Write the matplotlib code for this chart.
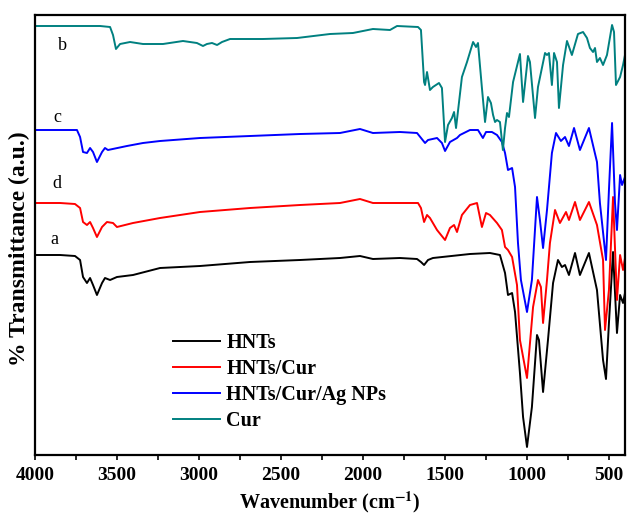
import matplotlib
matplotlib.use('Agg')
import matplotlib.pyplot as plt
from matplotlib.ticker import MultipleLocator

plt.rcParams['font.family'] = 'Liberation Serif'
plt.rcParams['mathtext.fontset'] = 'stix'

# spectra: wavenumber (cm-1) and transmittance (a.u., offset stack)
hnts_wn = [4000, 3847, 3756, 3725, 3707, 3683, 3664, 3646, 3622, 3591,
           3573, 3542, 3500, 3402, 3237, 2993, 2688, 2383, 2139, 2017,
           1938, 1773, 1669, 1645, 1626, 1602, 1572, 1346, 1224, 1163,
           1132, 1114, 1089, 1071, 1041, 1022, 998, 968, 937, 925,
           900, 870, 839, 809, 785, 766, 742, 705, 675, 620,
           571, 534, 516, 498, 473, 449, 430, 412, 400]
hnts_t = [200, 200, 199, 195, 178, 172, 177, 170, 160, 172,
          177, 175, 178, 180, 187, 189, 193, 195, 197, 199,
          196, 197, 196, 193, 190, 195, 197, 201, 202, 200,
          182, 160, 162, 143, 82, 38, 8, 48, 120, 115,
          63, 115, 172, 195, 188, 190, 180, 202, 180, 202,
          165, 95, 76, 132, 203, 122, 160, 152, 162]

cur_hnts_wn = [4000, 3847, 3756, 3725, 3707, 3683, 3664, 3646, 3622, 3591,
               3561, 3524, 3500, 3402, 3237, 2993, 2688, 2383, 2139, 2017,
               1938, 1773, 1663, 1645, 1626, 1608, 1590, 1547, 1498, 1468,
               1443, 1425, 1395, 1346, 1303, 1273, 1248, 1224, 1181, 1151,
               1132, 1114, 1089, 1059, 1041, 998, 961, 931, 913, 900,
               876, 858, 827, 797, 760, 742, 705, 675, 620, 571,
               534, 522, 498, 473, 449, 430, 412, 400]
cur_hnts_t = [252, 252, 251, 247, 233, 230, 233, 227, 218, 228,
              233, 232, 228, 232, 237, 243, 247, 250, 252, 256,
              252, 252, 252, 247, 233, 240, 237, 225, 215, 227,
              230, 223, 240, 250, 252, 228, 242, 240, 232, 225,
              208, 205, 198, 170, 115, 77, 148, 175, 168, 132,
              175, 212, 245, 232, 243, 235, 253, 235, 253, 230,
              195, 125, 165, 258, 155, 200, 185, 197]

ag_wn = [4000, 3847, 3744, 3725, 3707, 3683, 3664, 3646, 3622, 3591,
         3573, 3555, 3439, 3341, 3237, 2993, 2688, 2383, 2139, 2017,
         1938, 1773, 1669, 1620, 1602, 1547, 1517, 1498, 1468, 1425,
         1407, 1346, 1297, 1267, 1248, 1212, 1181, 1151, 1132, 1114,
         1089, 1071, 1053, 1035, 998, 968, 937, 919, 900, 876,
         846, 821, 791, 766, 742, 711, 675, 620, 571, 553,
         516, 498, 479, 461, 449, 430, 418, 400]
ag_t = [325, 325, 325, 318, 303, 302, 307, 303, 293, 303,
        307, 305, 309, 312, 314, 317, 319, 321, 322, 326,
        322, 323, 322, 312, 315, 317, 312, 304, 313, 317,
        320, 325, 325, 317, 323, 323, 320, 313, 302, 285,
        287, 268, 212, 175, 143, 175, 258, 235, 207, 245,
        302, 322, 314, 318, 309, 327, 305, 327, 293, 252,
        195, 265, 332, 252, 225, 280, 270, 278]

cur_wn = [4000, 3603, 3542, 3524, 3506, 3481, 3420, 3341, 3219, 3097,
          3012, 2975, 2951, 2920, 2889, 2859, 2810, 2609, 2401, 2200,
          2060, 1938, 1834, 1791, 1663, 1645, 1626, 1620, 1608, 1602,
          1590, 1572, 1535, 1517, 1498, 1480, 1456, 1443, 1431, 1395,
          1364, 1327, 1309, 1297, 1273, 1254, 1236, 1218, 1205, 1193,
          1181, 1163, 1145, 1132, 1120, 1108, 1083, 1041, 1022, 992,
          980, 949, 931, 888, 876, 864, 846, 833, 815, 803,
          778, 754, 724, 687, 656, 632, 614, 595, 583, 571,
          553, 534, 510, 479, 467, 455, 430, 412, 400]
cur_t = [429, 429, 428, 420, 406, 411, 413, 411, 411, 414,
         412, 409, 411, 412, 410, 413, 416, 416, 417, 421,
         422, 426, 425, 429, 428, 425, 373, 370, 383, 377,
         365, 368, 372, 367, 313, 330, 337, 343, 327, 378,
         393, 413, 408, 412, 367, 333, 358, 352, 340, 333,
         335, 333, 305, 327, 342, 338, 373, 401, 353, 399,
         393, 337, 368, 402, 400, 402, 370, 402, 393, 347,
         390, 414, 400, 421, 423, 417, 407, 403, 407, 393,
         397, 390, 400, 430, 423, 370, 378, 390, 400]

fig = plt.figure(figsize=(6.27, 5.22), dpi=100)
ax = fig.add_axes([35/627, 67/522, 590/627, 440/522])

ax.plot(hnts_wn, hnts_t, color='black', lw=1.4, label='HNTs')
ax.plot(cur_hnts_wn, cur_hnts_t, color='#ff0000', lw=1.4, label='HNTs/Cur')
ax.plot(ag_wn, ag_t, color='#0000ff', lw=1.4, label='HNTs/Cur/Ag NPs')
ax.plot(cur_wn, cur_t, color='#008080', lw=1.4, label='Cur')

# curve letters
ax.text(3835, 410, 'b', fontsize=13, ha='center', va='center')
ax.text(3866, 337, 'c', fontsize=13, ha='center', va='center')
ax.text(3866, 272, 'd', fontsize=13, ha='center', va='center')
ax.text(3884, 215, 'a', fontsize=13, ha='center', va='center')

ax.set_xlim(4000, 400)
ax.set_ylim(0, 440)
ax.set_yticks([])
ax.xaxis.set_major_locator(MultipleLocator(500))
ax.xaxis.set_minor_locator(MultipleLocator(250))
ax.tick_params(axis='x', which='both', direction='out', length=3.5, width=1.2,
               labelsize=14, pad=5)
for lab in ax.get_xticklabels():
    lab.set_fontweight('bold')
for sp in ax.spines.values():
    sp.set_linewidth(1.6)

ax.set_xlabel(r'Wavenumber (cm$^{\mathbf{-1}}$)', fontsize=14.5, fontweight='bold', labelpad=4)
ax.set_ylabel('% Transmittance (a.u.)', fontsize=17, fontweight='bold')
ax.yaxis.set_label_coords(-0.009, 0.47)

leg = ax.legend(loc='upper left', bbox_to_anchor=(0.22, 0.295), frameon=False,
                prop={'weight': 'bold', 'size': 14.5}, handlelength=2.35,
                handletextpad=0.3, labelspacing=0.3, borderaxespad=0)

fig.savefig('out.png', dpi=100)
